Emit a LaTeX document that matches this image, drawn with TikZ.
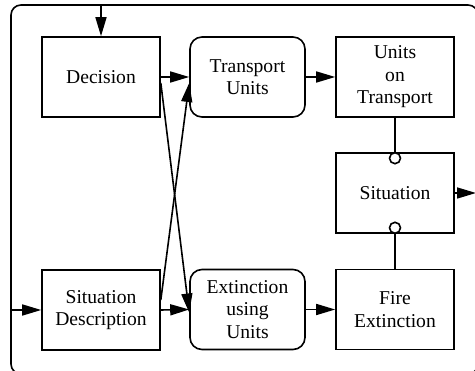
\documentclass[tikz,border=0pt]{standalone}
\usepackage{fontspec}
\setmainfont{Liberation Serif}
\usetikzlibrary{arrows.meta}
\begin{document}
\begin{tikzpicture}[x=1pt,y=-1pt,
  line width=1.6pt,
  lbl/.style={font=\fontsize{19.6}{22.5}\selectfont, align=center, inner sep=0pt},
  sqbox/.style={lbl, draw, minimum width=118pt, minimum height=80pt},
  rdbox/.style={lbl, draw, rounded corners=12pt, minimum width=115pt, minimum height=80pt},
  flow/.style={-{Triangle[length=19pt,width=11pt]}},
  knob/.style={draw, fill=white, line width=1.6pt}
]
\useasboundingbox (0,0) rectangle (475,371);
% outer frame of the model
\draw[rounded corners=10pt] (11,5) rectangle (478,374);
\coordinate (topin) at (101,5);
\coordinate (leftin) at (11,310);
\coordinate (rightout) at (476,193);

% activities and states
\node[sqbox] (dec) at (101,77) {Decision};
\node[rdbox] (tu)  at (247.5,77) {Transport\\Units};
\node[sqbox] (uot) at (395,77) {Units\\on\\Transport};
\node[sqbox] (sit) at (395,193) {Situation};
\node[sqbox] (sd)  at (101,310) {Situation\\Description};
\node[rdbox] (ext) at (247.5,309.5) {Extinction\\using\\Units};
\node[sqbox] (fe)  at (395,309.5) {Fire\\Extinction};

% flows
\draw[flow] (topin) -- (dec.north);
\draw[flow] (leftin) -- (sd.west);
\draw[flow] (dec.east) -- (tu.west);
\draw[flow] (sd.east) -- (ext.west);
\draw[flow] (tu.east) -- (uot.west);
\draw[flow] (ext.east) -- (fe.west);
\draw[flow] (sit.east) -- (rightout);
\draw[flow] ([yshift=-6pt]dec.east) -- ([yshift=-3pt]ext.west);
\draw[flow] ([yshift=10pt]sd.east) -- ([yshift=-6pt]tu.west);

% state links with open circles
\coordinate (upknob) at ([yshift=-6pt]sit.north);
\coordinate (lowknob) at ([yshift=6pt]sit.south);
\draw (uot.south) -- (upknob);
\draw (fe.north) -- (lowknob);
\draw[knob] (upknob) circle (5.5pt);
\draw[knob] (lowknob) circle (5.5pt);
\end{tikzpicture}
\end{document}
